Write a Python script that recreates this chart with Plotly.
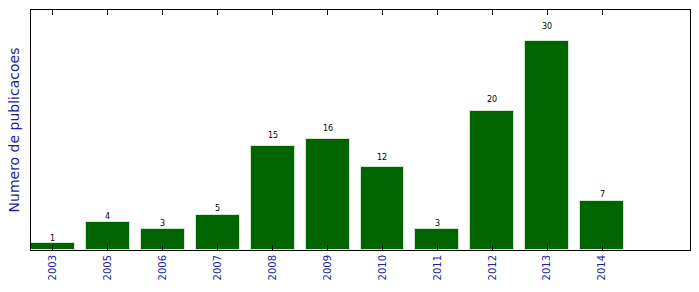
import plotly.graph_objects as go

years = ["2003", "2005", "2006", "2007", "2008", "2009", "2010", "2011", "2012", "2013", "2014"]
counts = [1, 4, 3, 5, 15, 16, 12, 3, 20, 30, 7]

pos = [i + 0.4 for i in range(len(years))]
ymax = max(counts) * 1.15

fig = go.Figure()
fig.add_trace(go.Bar(
    x=pos, y=counts, width=0.8,
    marker=dict(color="#006400", line=dict(color="#cfe6cf", width=1)),
    hoverinfo="skip",
))

for p, c in zip(pos, counts):
    fig.add_annotation(x=p, y=c * 1.05, text=str(c), showarrow=False,
                       yanchor="bottom", xanchor="center",
                       font=dict(size=8, color="black", family="DejaVu Sans"),
                       yshift=-2)

fig.update_layout(
    width=699, height=292,
    margin=dict(l=31, r=9, t=10, b=42),
    plot_bgcolor="white", paper_bgcolor="white",
    showlegend=False,
    bargap=0,
    font=dict(family="DejaVu Sans"),
)
fig.update_xaxes(
    range=[0, 12], tickmode="array", tickvals=pos, ticktext=years,
    tickangle=-90, ticks="inside", ticklen=5, tickcolor="black",
    showline=True, linecolor="black", linewidth=1, mirror="ticks",
    showgrid=False, zeroline=False,
    tickfont=dict(size=10, color="#1e1ea0"),
)
fig.update_yaxes(
    range=[0, ymax], showticklabels=False, ticks="",
    showline=True, linecolor="black", linewidth=1, mirror=True,
    showgrid=False, zeroline=False,
    title=dict(text="Numero de publicacoes", font=dict(size=14, color="#1e1ea0"), standoff=7),
)

fig.write_html("out.html")
